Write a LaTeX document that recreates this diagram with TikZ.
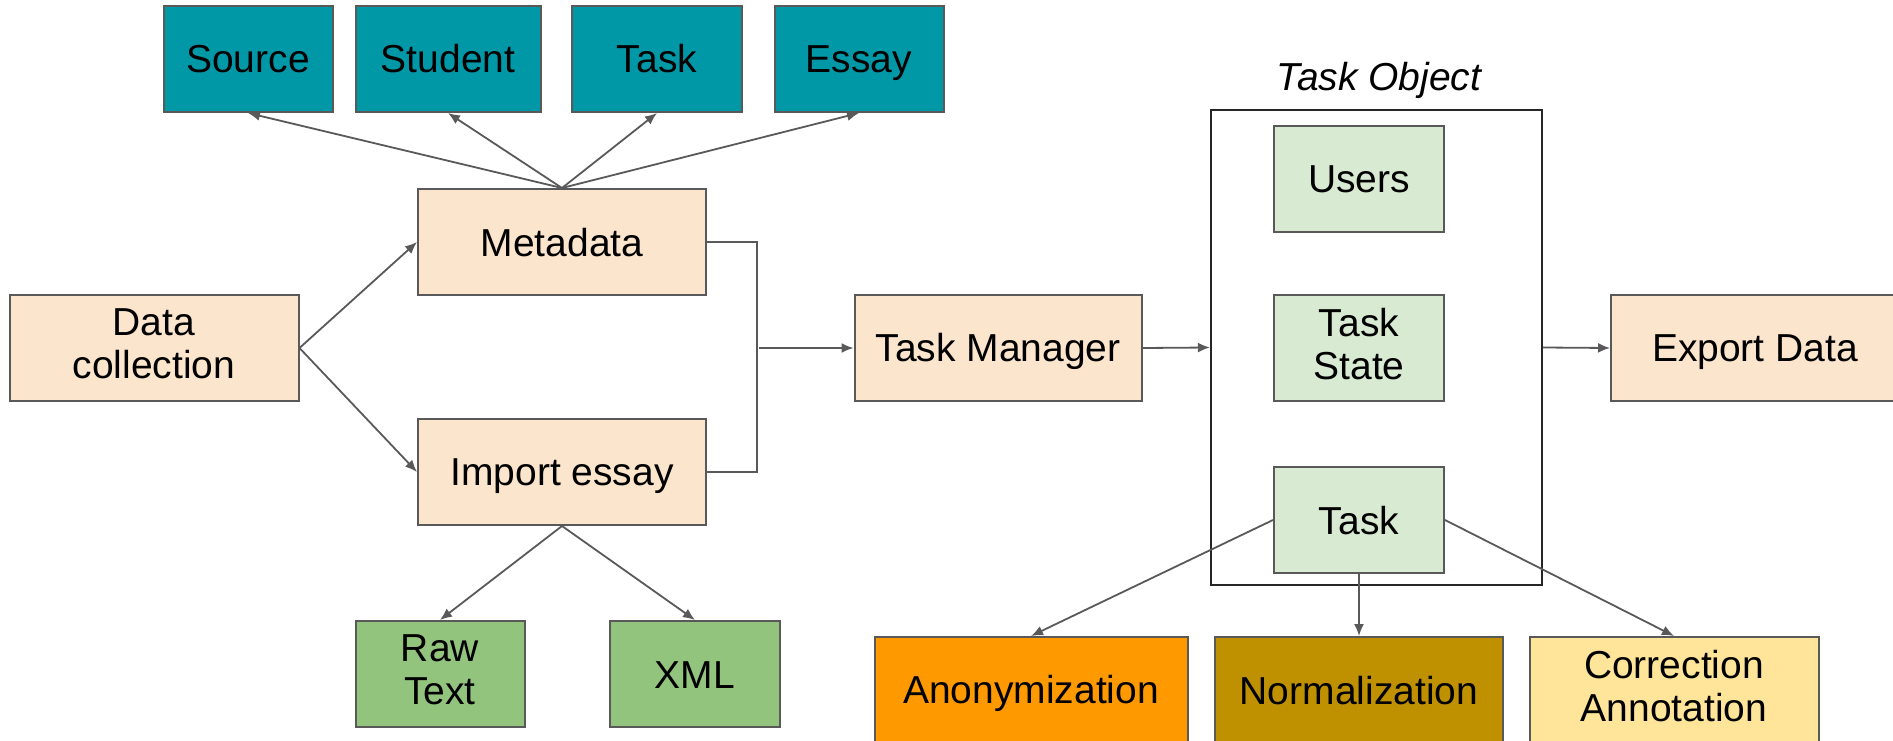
\documentclass[tikz,border=0pt]{standalone}
\usepackage{fontspec}
\setmainfont{Liberation Sans}
\usetikzlibrary{arrows.meta}
\definecolor{borda}{HTML}{595959}
\definecolor{pessego}{HTML}{FCE5CD}
\definecolor{azul}{HTML}{0097A7}
\definecolor{verde}{HTML}{93C47D}
\definecolor{verdeclaro}{HTML}{D9EAD3}
\definecolor{laranja}{HTML}{FF9900}
\definecolor{ouro}{HTML}{BF9000}
\definecolor{amarelo}{HTML}{FFE599}
\newcommand{\apoio}{\rule[-8pt]{0pt}{44pt}}
\tikzset{caixa/.style={draw=borda,line width=2pt,fill=#1,minimum height=106pt,
	inner sep=0pt,align=center,font=\fontsize{39}{43}\selectfont,
	execute at begin node=\apoio,execute at end node=\apoio},caixa/.default=pessego}
\tikzset{seta/.style={draw=borda,line width=1.8pt,-{Latex[length=12pt,width=10pt]}}}

\begin{document}
\begin{tikzpicture}[x=1pt,y=-1pt,
											linha/.style={draw=borda,line width=1.8pt},
											moldura/.style={draw=black!85,line width=2.2pt}]

		\useasboundingbox (0,0) rectangle (1893,741);

		% Coleta e importação
		\node [caixa, minimum width=289pt] (coleta) at (154,348) {Data\\collection};
		\node [caixa, minimum width=288pt] (meta) at (562,242) {Metadata};
		\node [caixa, minimum width=288pt] (importa) at (562,472) {Import essay};

		% Os metadados
		\node [caixa=azul, minimum width=169pt] (fonte) at (248,59) {Source};
		\node [caixa=azul, minimum width=185pt] (aluno) at (448,59) {Student};
		\node [caixa=azul, minimum width=170pt] (tarefa) at (657,59) {Task};
		\node [caixa=azul, minimum width=169pt] (redacao) at (859,59) {Essay};

		% Formatos da redação
		\node [caixa=verde, minimum width=169pt] (bruto) at (440,674) {Raw\\Text};
		\node [caixa=verde, minimum width=170pt] (xml) at (695,674) {XML};

		% Gerenciador
		\node [caixa, minimum width=287pt] (gerente) at (998,348) {Task Manager};

		% O objeto "Task"
		\node [moldura, minimum width=331pt, minimum height=475pt] (objeto) at (1376.5,347.5) {};
		\node [font=\fontsize{39}{43}\selectfont\itshape] (rotulo) at (1379,80) {Task Object};
		\node [caixa=verdeclaro, minimum width=170pt] (usuarios) at (1359,179) {Users};
		\node [caixa=verdeclaro, minimum width=170pt] (estado) at (1359,348) {Task\\State};
		\node [caixa=verdeclaro, minimum width=170pt] (tarefa2) at (1359,520) {Task};

		% Exportação
		\node [caixa, minimum width=288pt] (exporta) at (1755,348) {Export Data};

		% Etapas sobre a tarefa
		\node [caixa=laranja, minimum width=313pt] (anonimiza) at (1031,690) {Anonymization};
		\node [caixa=ouro, minimum width=288pt] (normaliza) at (1359,690) {Normalization};
		\node [caixa=amarelo, minimum width=289pt] (corrige) at (1674,690) {Correction\\Annotation};

		% Flechas da coleta
		\draw [seta] (coleta.east) -- (meta.west);
		\draw [seta] (coleta.east) -- (importa.west);

		% Flechas dos metadados
		\foreach \n in {fonte,aluno,tarefa,redacao}
			\draw [seta] (meta.north) -- (\n.south);

		% Flechas da importação
		\draw [seta] (importa.south) -- (bruto.north);
		\draw [seta] (importa.south) -- (xml.north);

		% Junção até o gerenciador
		\coordinate (juncao) at (759,348);
		\draw [linha] (meta.east) -- ++(50,0) |- (importa.east);
		\draw [seta] (juncao) -- (gerente.west);

		% Gerenciador, objeto e exportação
		\draw [seta] (gerente.east) -- (objeto.west);
		\draw [seta] (objeto.east) -- (exporta.west);

		% Flechas da tarefa
		\draw [seta] (tarefa2.west) -- (anonimiza.north);
		\draw [seta] (tarefa2.south) -- (normaliza.north);
		\draw [seta] (tarefa2.east) -- (corrige.north);

	\end{tikzpicture}
\end{document}
